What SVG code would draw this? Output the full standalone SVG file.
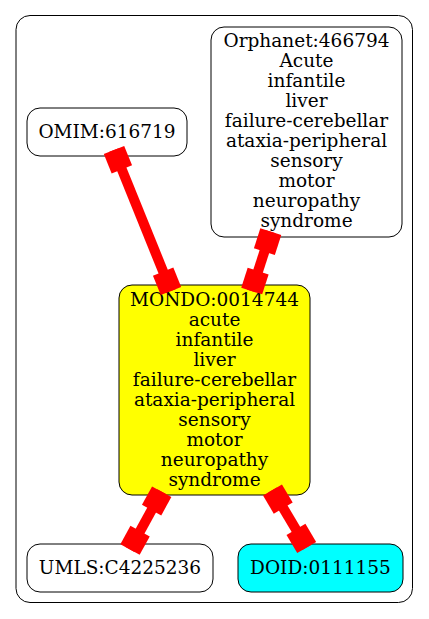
<svg xmlns="http://www.w3.org/2000/svg" width="429" height="619" viewBox="0 0 429 619">
<style>
.node rect{stroke:#000;stroke-width:1}
.node text{font-family:"DejaVu Serif",serif;font-size:18.5px;text-anchor:middle;fill:#000}
.edge{stroke:#f00;stroke-width:10;fill:none;stroke-linecap:butt;marker-start:url(#box);marker-end:url(#box)}
</style>
<defs>
<marker id="box" markerUnits="userSpaceOnUse" markerWidth="21" markerHeight="22" viewBox="-21 -11 21 22" refX="0" refY="0" orient="auto-start-reverse" overflow="visible">
<rect x="-21" y="-11" width="21" height="22" fill="#f00"/>
</marker>
</defs>
<rect width="429" height="619" fill="#fff"/>
<rect id="cluster" x="16" y="15.5" width="396.5" height="587" rx="14" fill="none" stroke="#000" stroke-width="1"/>
<g id="OMIM" class="node"><rect x="27" y="108" width="160" height="48" rx="13" fill="#fff"/><text x="107" y="137.5">OMIM:616719</text></g>
<g id="Orphanet" class="node"><rect x="211" y="27" width="191" height="210" rx="13" fill="#fff"/>
<text x="306.5" y="47">Orphanet:466794</text><text x="306.5" y="67">Acute</text><text x="306.5" y="87">infantile</text><text x="306.5" y="107">liver</text><text x="306.5" y="127">failure-cerebellar</text><text x="306.5" y="147">ataxia-peripheral</text><text x="306.5" y="167">sensory</text><text x="306.5" y="187">motor</text><text x="306.5" y="207">neuropathy</text><text x="306.5" y="227">syndrome</text></g>
<g id="MONDO" class="node"><rect x="119" y="285" width="191" height="210" rx="13" fill="#ff0"/>
<text x="214.5" y="306">MONDO:0014744</text><text x="214.5" y="326">acute</text><text x="214.5" y="346">infantile</text><text x="214.5" y="366">liver</text><text x="214.5" y="386">failure-cerebellar</text><text x="214.5" y="406">ataxia-peripheral</text><text x="214.5" y="426">sensory</text><text x="214.5" y="446">motor</text><text x="214.5" y="466">neuropathy</text><text x="214.5" y="486">syndrome</text></g>
<g id="UMLS" class="node"><rect x="27" y="544" width="186" height="48" rx="13" fill="#fff"/><text x="120" y="573.5">UMLS:C4225236</text></g>
<g id="DOID" class="node"><rect x="238" y="544" width="165" height="48" rx="13" fill="#0ff"/><text x="320.5" y="573.5">DOID:0111155</text></g>
<g id="edges">
<path class="edge" d="M114,150 L171,291"/>
<path class="edge" d="M270.8,231.7 L251.7,291"/>
<path class="edge" d="M161.7,491.7 L130,549.5"/>
<path class="edge" d="M272.5,490 L306.7,547.5"/>
</g>
</svg>
